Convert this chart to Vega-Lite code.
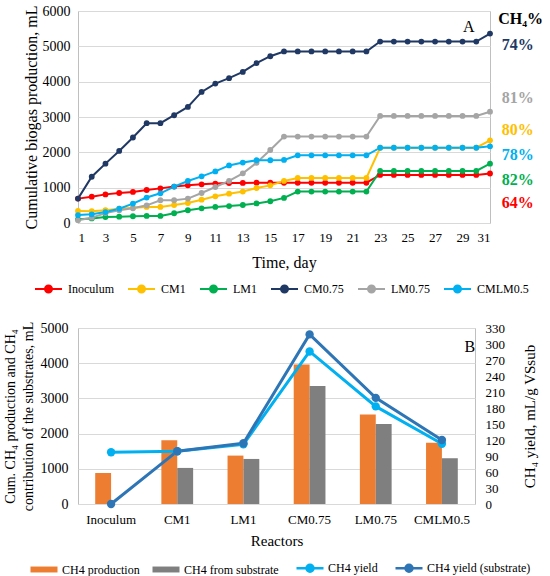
{
"$schema": "https://vega.github.io/schema/vega-lite/v6.json",
"background": "white",
"padding": {"left": 2, "top": 3, "right": 2, "bottom": 2},
"columns": 1,
"align": "none",
"spacing": 22,
"resolve": {"scale": {"color": "independent"}, "legend": {"color": "independent"}},
"config": {
  "font": "Liberation Serif",
  "view": {"stroke": "#BFBFBF", "strokeWidth": 1},
  "axis": {"labelFont": "Liberation Serif", "titleFont": "Liberation Serif", "titleFontWeight": "normal", "labelColor": "#000000", "titleColor": "#000000", "labelOverlap": false, "ticks": false, "domain": false},
  "legend": {"labelFont": "Liberation Serif", "labelColor": "#000000"},
  "text": {"font": "Liberation Serif"}
},
"datasets": {
  "top": [
    {"day":1,"series":"Inoculum","value":690},{"day":2,"series":"Inoculum","value":745},{"day":3,"series":"Inoculum","value":810},{"day":4,"series":"Inoculum","value":850},{"day":5,"series":"Inoculum","value":880},{"day":6,"series":"Inoculum","value":935},{"day":7,"series":"Inoculum","value":980},{"day":8,"series":"Inoculum","value":1030},{"day":9,"series":"Inoculum","value":1065},{"day":10,"series":"Inoculum","value":1095},{"day":11,"series":"Inoculum","value":1115},{"day":12,"series":"Inoculum","value":1130},{"day":13,"series":"Inoculum","value":1135},{"day":14,"series":"Inoculum","value":1140},{"day":15,"series":"Inoculum","value":1140},{"day":16,"series":"Inoculum","value":1140},{"day":17,"series":"Inoculum","value":1140},{"day":18,"series":"Inoculum","value":1140},{"day":19,"series":"Inoculum","value":1140},{"day":20,"series":"Inoculum","value":1140},{"day":21,"series":"Inoculum","value":1140},{"day":22,"series":"Inoculum","value":1140},{"day":23,"series":"Inoculum","value":1360},{"day":24,"series":"Inoculum","value":1360},{"day":25,"series":"Inoculum","value":1360},{"day":26,"series":"Inoculum","value":1360},{"day":27,"series":"Inoculum","value":1360},{"day":28,"series":"Inoculum","value":1360},{"day":29,"series":"Inoculum","value":1360},{"day":30,"series":"Inoculum","value":1360},{"day":31,"series":"Inoculum","value":1400},
    {"day":1,"series":"CM1","value":340},{"day":2,"series":"CM1","value":335},{"day":3,"series":"CM1","value":360},{"day":4,"series":"CM1","value":405},{"day":5,"series":"CM1","value":435},{"day":6,"series":"CM1","value":455},{"day":7,"series":"CM1","value":455},{"day":8,"series":"CM1","value":510},{"day":9,"series":"CM1","value":565},{"day":10,"series":"CM1","value":660},{"day":11,"series":"CM1","value":755},{"day":12,"series":"CM1","value":830},{"day":13,"series":"CM1","value":890},{"day":14,"series":"CM1","value":990},{"day":15,"series":"CM1","value":1065},{"day":16,"series":"CM1","value":1190},{"day":17,"series":"CM1","value":1275},{"day":18,"series":"CM1","value":1275},{"day":19,"series":"CM1","value":1275},{"day":20,"series":"CM1","value":1275},{"day":21,"series":"CM1","value":1275},{"day":22,"series":"CM1","value":1275},{"day":23,"series":"CM1","value":2130},{"day":24,"series":"CM1","value":2130},{"day":25,"series":"CM1","value":2130},{"day":26,"series":"CM1","value":2130},{"day":27,"series":"CM1","value":2130},{"day":28,"series":"CM1","value":2130},{"day":29,"series":"CM1","value":2130},{"day":30,"series":"CM1","value":2130},{"day":31,"series":"CM1","value":2340},
    {"day":1,"series":"LM1","value":105},{"day":2,"series":"LM1","value":130},{"day":3,"series":"LM1","value":170},{"day":4,"series":"LM1","value":180},{"day":5,"series":"LM1","value":190},{"day":6,"series":"LM1","value":200},{"day":7,"series":"LM1","value":200},{"day":8,"series":"LM1","value":275},{"day":9,"series":"LM1","value":360},{"day":10,"series":"LM1","value":415},{"day":11,"series":"LM1","value":455},{"day":12,"series":"LM1","value":480},{"day":13,"series":"LM1","value":510},{"day":14,"series":"LM1","value":555},{"day":15,"series":"LM1","value":615},{"day":16,"series":"LM1","value":710},{"day":17,"series":"LM1","value":890},{"day":18,"series":"LM1","value":890},{"day":19,"series":"LM1","value":890},{"day":20,"series":"LM1","value":890},{"day":21,"series":"LM1","value":890},{"day":22,"series":"LM1","value":890},{"day":23,"series":"LM1","value":1475},{"day":24,"series":"LM1","value":1475},{"day":25,"series":"LM1","value":1475},{"day":26,"series":"LM1","value":1475},{"day":27,"series":"LM1","value":1475},{"day":28,"series":"LM1","value":1475},{"day":29,"series":"LM1","value":1475},{"day":30,"series":"LM1","value":1475},{"day":31,"series":"LM1","value":1680},
    {"day":1,"series":"CM0.75","value":690},{"day":2,"series":"CM0.75","value":1310},{"day":3,"series":"CM0.75","value":1680},{"day":4,"series":"CM0.75","value":2040},{"day":5,"series":"CM0.75","value":2420},{"day":6,"series":"CM0.75","value":2825},{"day":7,"series":"CM0.75","value":2825},{"day":8,"series":"CM0.75","value":3050},{"day":9,"series":"CM0.75","value":3285},{"day":10,"series":"CM0.75","value":3710},{"day":11,"series":"CM0.75","value":3945},{"day":12,"series":"CM0.75","value":4100},{"day":13,"series":"CM0.75","value":4275},{"day":14,"series":"CM0.75","value":4525},{"day":15,"series":"CM0.75","value":4720},{"day":16,"series":"CM0.75","value":4855},{"day":17,"series":"CM0.75","value":4855},{"day":18,"series":"CM0.75","value":4855},{"day":19,"series":"CM0.75","value":4855},{"day":20,"series":"CM0.75","value":4855},{"day":21,"series":"CM0.75","value":4855},{"day":22,"series":"CM0.75","value":4855},{"day":23,"series":"CM0.75","value":5135},{"day":24,"series":"CM0.75","value":5135},{"day":25,"series":"CM0.75","value":5135},{"day":26,"series":"CM0.75","value":5135},{"day":27,"series":"CM0.75","value":5135},{"day":28,"series":"CM0.75","value":5135},{"day":29,"series":"CM0.75","value":5135},{"day":30,"series":"CM0.75","value":5135},{"day":31,"series":"CM0.75","value":5360},
    {"day":1,"series":"LM0.75","value":75},{"day":2,"series":"LM0.75","value":150},{"day":3,"series":"LM0.75","value":280},{"day":4,"series":"LM0.75","value":360},{"day":5,"series":"LM0.75","value":415},{"day":6,"series":"LM0.75","value":500},{"day":7,"series":"LM0.75","value":645},{"day":8,"series":"LM0.75","value":645},{"day":9,"series":"LM0.75","value":690},{"day":10,"series":"LM0.75","value":850},{"day":11,"series":"LM0.75","value":1020},{"day":12,"series":"LM0.75","value":1190},{"day":13,"series":"LM0.75","value":1405},{"day":14,"series":"LM0.75","value":1705},{"day":15,"series":"LM0.75","value":2065},{"day":16,"series":"LM0.75","value":2445},{"day":17,"series":"LM0.75","value":2445},{"day":18,"series":"LM0.75","value":2445},{"day":19,"series":"LM0.75","value":2445},{"day":20,"series":"LM0.75","value":2445},{"day":21,"series":"LM0.75","value":2445},{"day":22,"series":"LM0.75","value":2445},{"day":23,"series":"LM0.75","value":3030},{"day":24,"series":"LM0.75","value":3030},{"day":25,"series":"LM0.75","value":3030},{"day":26,"series":"LM0.75","value":3030},{"day":27,"series":"LM0.75","value":3030},{"day":28,"series":"LM0.75","value":3030},{"day":29,"series":"LM0.75","value":3030},{"day":30,"series":"LM0.75","value":3030},{"day":31,"series":"LM0.75","value":3150},
    {"day":1,"series":"CMLM0.5","value":225},{"day":2,"series":"CMLM0.5","value":245},{"day":3,"series":"CMLM0.5","value":310},{"day":4,"series":"CMLM0.5","value":405},{"day":5,"series":"CMLM0.5","value":550},{"day":6,"series":"CMLM0.5","value":720},{"day":7,"series":"CMLM0.5","value":840},{"day":8,"series":"CMLM0.5","value":1030},{"day":9,"series":"CMLM0.5","value":1190},{"day":10,"series":"CMLM0.5","value":1320},{"day":11,"series":"CMLM0.5","value":1460},{"day":12,"series":"CMLM0.5","value":1630},{"day":13,"series":"CMLM0.5","value":1710},{"day":14,"series":"CMLM0.5","value":1775},{"day":15,"series":"CMLM0.5","value":1775},{"day":16,"series":"CMLM0.5","value":1785},{"day":17,"series":"CMLM0.5","value":1915},{"day":18,"series":"CMLM0.5","value":1915},{"day":19,"series":"CMLM0.5","value":1915},{"day":20,"series":"CMLM0.5","value":1915},{"day":21,"series":"CMLM0.5","value":1915},{"day":22,"series":"CMLM0.5","value":1915},{"day":23,"series":"CMLM0.5","value":2130},{"day":24,"series":"CMLM0.5","value":2130},{"day":25,"series":"CMLM0.5","value":2130},{"day":26,"series":"CMLM0.5","value":2130},{"day":27,"series":"CMLM0.5","value":2130},{"day":28,"series":"CMLM0.5","value":2130},{"day":29,"series":"CMLM0.5","value":2130},{"day":30,"series":"CMLM0.5","value":2130},{"day":31,"series":"CMLM0.5","value":2170}
  ],
  "pct": [
    {"series":"CM0.75","pct":"74%","anchor":5040},
    {"series":"LM0.75","pct":"81%","anchor":3530},
    {"series":"CM1","pct":"80%","anchor":2625},
    {"series":"CMLM0.5","pct":"78%","anchor":1925},
    {"series":"LM1","pct":"82%","anchor":1215},
    {"series":"Inoculum","pct":"64%","anchor":575}
  ],
  "bottom": [
    {"reactor":"Inoculum","series":"CH4 production","value":880},
    {"reactor":"Inoculum","series":"CH4 from substrate","value":0},
    {"reactor":"CM1","series":"CH4 production","value":1810},
    {"reactor":"CM1","series":"CH4 from substrate","value":1025},
    {"reactor":"LM1","series":"CH4 production","value":1375},
    {"reactor":"LM1","series":"CH4 from substrate","value":1280},
    {"reactor":"CM0.75","series":"CH4 production","value":3960},
    {"reactor":"CM0.75","series":"CH4 from substrate","value":3350},
    {"reactor":"LM0.75","series":"CH4 production","value":2545},
    {"reactor":"LM0.75","series":"CH4 from substrate","value":2275},
    {"reactor":"CMLM0.5","series":"CH4 production","value":1740},
    {"reactor":"CMLM0.5","series":"CH4 from substrate","value":1300},
    {"reactor":"Inoculum","series":"CH4 yield","value":97},
    {"reactor":"CM1","series":"CH4 yield","value":99},
    {"reactor":"LM1","series":"CH4 yield","value":112},
    {"reactor":"CM0.75","series":"CH4 yield","value":286},
    {"reactor":"LM0.75","series":"CH4 yield","value":183},
    {"reactor":"CMLM0.5","series":"CH4 yield","value":113},
    {"reactor":"Inoculum","series":"CH4 yield (substrate)","value":0},
    {"reactor":"CM1","series":"CH4 yield (substrate)","value":99},
    {"reactor":"LM1","series":"CH4 yield (substrate)","value":114},
    {"reactor":"CM0.75","series":"CH4 yield (substrate)","value":318},
    {"reactor":"LM0.75","series":"CH4 yield (substrate)","value":199},
    {"reactor":"CMLM0.5","series":"CH4 yield (substrate)","value":120}
  ]
},
"concat": [
  {
    "width": 412,
    "height": 212,
    "resolve": {"axis": {"x": "independent", "y": "independent"}},
    "layer": [
      {
        "data": {"name": "top"},
        "mark": {"type": "line", "strokeWidth": 2, "point": {"filled": true, "size": 34, "opacity": 1}},
        "encoding": {
          "x": {"field": "day", "type": "quantitative", "scale": {"domain": [1, 31], "nice": false, "zero": false},
                "axis": {"values": [1,3,5,7,9,11,13,15,17,19,21,23,25,27,29,31], "format": "d", "grid": false, "ticks": false, "domain": false, "labelOverlap": false,
                         "labelFont": "Liberation Serif", "labelColor": "#000000", "labelFontSize": 13, "labelPadding": 8,
                         "title": "Time, day", "titleFont": "Liberation Serif", "titleColor": "#000000", "titleFontWeight": 400, "titleFontSize": 16, "titlePadding": 10}},
          "y": {"field": "value", "type": "quantitative", "scale": {"domain": [0, 6000], "nice": false},
                "axis": {"values": [0,1000,2000,3000,4000,5000,6000], "format": "d", "grid": true, "gridColor": "#D9D9D9", "ticks": false, "domain": false, "labelOverlap": false,
                         "labelFont": "Liberation Serif", "labelColor": "#000000", "labelFontSize": 14, "labelPadding": 8,
                         "title": "Cumulative biogas production, mL", "titleFont": "Liberation Serif", "titleColor": "#000000", "titleFontWeight": 400, "titleFontSize": 16, "titlePadding": 3}},
          "color": {"field": "series", "type": "nominal",
                    "scale": {"domain": ["Inoculum","CM1","LM1","CM0.75","LM0.75","CMLM0.5"], "range": ["#FF0000","#FFC000","#00B050","#203864","#A5A5A5","#00B0F0"]},
                    "legend": {"orient": "none", "legendX": -44, "legendY": 263, "direction": "horizontal", "title": null,
                               "symbolType": "M-1,0H1M-0.26,0A0.26,0.26 0 1,1 0.26,0A0.26,0.26 0 1,1 -0.26,0Z",
                               "symbolSize": 729, "symbolStrokeWidth": 2, "labelFont": "Liberation Serif", "labelColor": "#000000", "labelFontSize": 12, "labelOffset": 5, "columnPadding": 10,
                               "encode": {"symbols": {"update": {
                                 "fill": {"signal": "({'Inoculum':'#FF0000','CM1':'#FFC000','LM1':'#00B050','CM0.75':'#203864','LM0.75':'#A5A5A5','CMLM0.5':'#00B0F0'})[datum.value]"},
                                 "stroke": {"signal": "({'Inoculum':'#FF0000','CM1':'#FFC000','LM1':'#00B050','CM0.75':'#203864','LM0.75':'#A5A5A5','CMLM0.5':'#00B0F0'})[datum.value]"},
                                 "opacity": {"value": 1}}}}}}
        }
      },
      {
        "data": {"name": "pct"},
        "mark": {"type": "text", "align": "left", "baseline": "middle", "font": "Liberation Serif", "fontSize": 16, "fontWeight": "bold"},
        "encoding": {
          "x": {"datum": 31.85, "type": "quantitative", "axis": null},
          "y": {"field": "anchor", "type": "quantitative", "axis": null},
          "text": {"field": "pct"},
          "color": {"field": "series", "type": "nominal", "legend": null}
        }
      },
      {
        "data": {"values": [{}]},
        "mark": {"type": "text", "align": "left", "baseline": "middle", "font": "Liberation Serif", "fontSize": 16, "fontWeight": "bold", "color": "#000000"},
        "encoding": {
          "x": {"datum": 31.6, "type": "quantitative", "axis": null},
          "y": {"datum": 5770, "type": "quantitative", "axis": null},
          "text": {"value": "CH₄%"}
        }
      },
      {
        "data": {"values": [{}]},
        "mark": {"type": "text", "align": "center", "baseline": "middle", "font": "Liberation Serif", "fontSize": 16, "color": "#000000"},
        "encoding": {
          "x": {"datum": 29.45, "type": "quantitative", "axis": null},
          "y": {"datum": 5560, "type": "quantitative", "axis": null},
          "text": {"value": "A"}
        }
      }
    ]
  },
  {
    "width": 397,
    "height": 176,
    "data": {"name": "bottom"},
    "resolve": {"scale": {"y": "independent"}, "axis": {"x": "independent", "y": "independent"}},
    "layer": [
      {
        "resolve": {"axis": {"x": "independent", "y": "independent"}},
        "layer": [
          {
            "transform": [{"filter": "datum.series == 'CH4 production' || datum.series == 'CH4 from substrate'"}],
            "mark": {"type": "bar"},
            "encoding": {
              "x": {"field": "reactor", "type": "nominal", "sort": ["Inoculum","CM1","LM1","CM0.75","LM0.75","CMLM0.5"],
                    "scale": {"paddingInner": 0.52, "paddingOuter": 0.26},
                    "axis": {"labelAngle": 0, "grid": false, "ticks": false, "domain": false, "labelOverlap": false,
                             "labelFont": "Liberation Serif", "labelColor": "#000000", "labelFontSize": 13, "labelPadding": 9,
                             "title": "Reactors", "titleFont": "Liberation Serif", "titleColor": "#000000", "titleFontWeight": 400, "titleFontSize": 15, "titlePadding": 7}},
              "xOffset": {"field": "series", "type": "nominal", "sort": ["CH4 production","CH4 from substrate"]},
              "y": {"field": "value", "type": "quantitative", "scale": {"domain": [0, 5000], "nice": false},
                    "axis": {"values": [0,1000,2000,3000,4000,5000], "format": "d", "grid": true, "gridColor": "#D9D9D9", "ticks": false, "domain": false, "labelOverlap": false,
                             "labelFont": "Liberation Serif", "labelColor": "#000000", "labelFontSize": 14, "labelPadding": 10,
                             "title": ["Cum. CH₄ production and CH₄", "contribution of the substrates, mL"], "titleFont": "Liberation Serif", "titleColor": "#000000", "titleFontWeight": 400, "titleFontSize": 14, "titleLineHeight": 18, "titlePadding": 5}},
              "color": {"field": "series", "type": "nominal",
                        "scale": {"domain": ["CH4 production","CH4 from substrate","CH4 yield","CH4 yield (substrate)"], "range": ["#ED7D31","#7F7F7F","#00B0F0","#2E75B6"]},
                        "legend": {"orient": "none", "legendX": -40, "legendY": 234, "direction": "horizontal", "title": null,
                                   "symbolSize": 729, "labelFont": "Liberation Serif", "labelColor": "#000000", "labelFontSize": 12, "labelOffset": 12, "columnPadding": 12,
                                   "encode": {"symbols": {"update": {
                                     "shape": {"signal": "indexof(['CH4 production','CH4 from substrate'], datum.value) >= 0 ? 'M-1,-0.22H1V0.22H-1Z' : 'M-1,0H1M-0.26,0A0.26,0.26 0 1,1 0.26,0A0.26,0.26 0 1,1 -0.26,0Z'"},
                                     "fill": {"signal": "({'CH4 production':'#ED7D31','CH4 from substrate':'#7F7F7F','CH4 yield':'#00B0F0','CH4 yield (substrate)':'#2E75B6'})[datum.value]"},
                                     "stroke": {"signal": "({'CH4 production':'#ED7D31','CH4 from substrate':'#7F7F7F','CH4 yield':'#00B0F0','CH4 yield (substrate)':'#2E75B6'})[datum.value]"},
                                     "strokeWidth": {"signal": "indexof(['CH4 production','CH4 from substrate'], datum.value) >= 0 ? 0 : 2.5"},
                                     "opacity": {"value": 1}}}}}}
            }
          },
          {
            "data": {"values": [{}]},
            "mark": {"type": "text", "align": "center", "baseline": "middle", "font": "Liberation Serif", "fontSize": 16, "color": "#000000", "dx": 28},
            "encoding": {
              "x": {"datum": "CMLM0.5", "type": "nominal", "axis": null},
              "y": {"datum": 4450, "type": "quantitative", "axis": null},
              "text": {"value": "B"}
            }
          }
        ]
      },
      {
        "transform": [{"filter": "datum.series == 'CH4 yield' || datum.series == 'CH4 yield (substrate)'"}],
        "mark": {"type": "line", "strokeWidth": 3, "point": {"filled": true, "size": 70, "opacity": 1}},
        "encoding": {
          "x": {"field": "reactor", "type": "nominal", "sort": ["Inoculum","CM1","LM1","CM0.75","LM0.75","CMLM0.5"], "axis": null},
          "y": {"field": "value", "type": "quantitative", "scale": {"domain": [0, 330], "nice": false},
                "axis": {"orient": "right", "grid": false, "values": [0,30,60,90,120,150,180,210,240,270,300,330], "format": "d", "ticks": false, "domain": false, "labelOverlap": false,
                         "labelFont": "Liberation Serif", "labelColor": "#000000", "labelFontSize": 13, "labelPadding": 10,
                         "title": "CH₄ yield, mL/g VSsub", "titleFont": "Liberation Serif", "titleColor": "#000000", "titleFontWeight": 400, "titleFontSize": 15, "titleAngle": 270, "titlePadding": 33}},
          "color": {"field": "series", "type": "nominal"}
        }
      }
    ]
  }
]
}
